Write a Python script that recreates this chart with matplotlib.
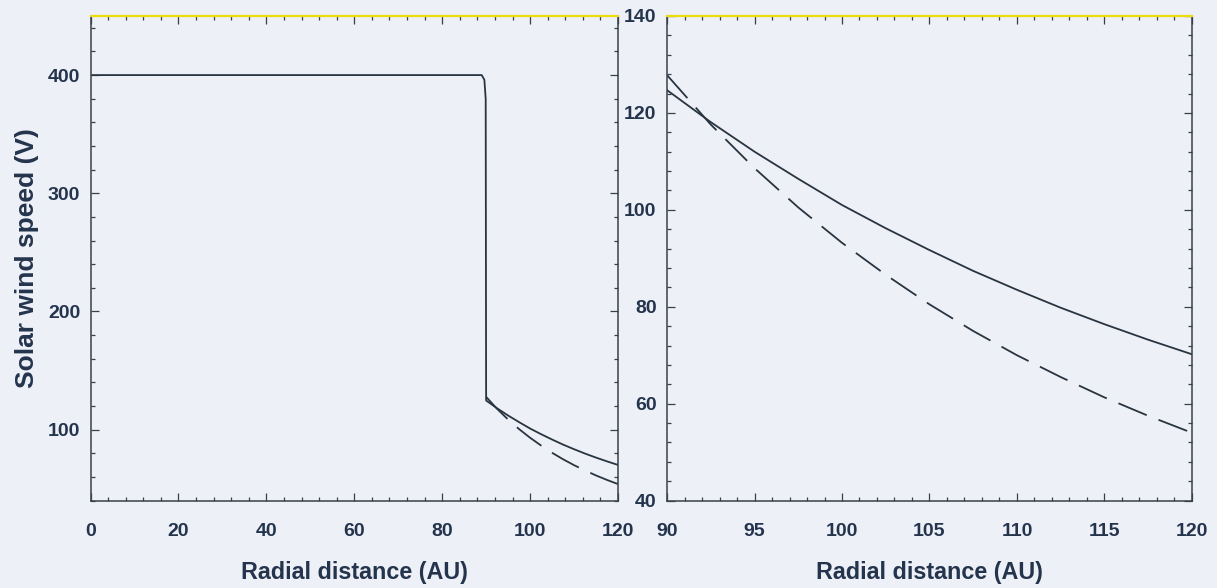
import matplotlib
matplotlib.use('Agg')
import matplotlib.pyplot as plt
from matplotlib.ticker import AutoMinorLocator

# Style
BG = '#eef0f8'
INK = '#24344c'
LINE = '#283440'
plt.rcParams.update({
    'font.family': ['Liberation Sans', 'DejaVu Sans'],
    'font.weight': 'bold',
    'axes.linewidth': 1.1,
})

# Data
# plateau upstream of the termination shock (left panel)
r_upstream = [0, 89.0, 89.6, 89.9]
v_upstream = [400, 400, 396, 380]

# heliosheath profiles, 90-120 AU
r_sheath = [90, 92.5, 95, 97.5, 100, 102.5, 105, 107.5, 110, 112.5, 115, 117.5, 120]
v_solid = [124.7, 118.1, 112.0, 106.4, 101.0, 96.2, 91.7, 87.4, 83.5, 79.8, 76.4, 73.2, 70.2]
v_dashed = [127.8, 117.6, 108.6, 100.5, 93.2, 86.6, 80.5, 75.0, 70.0, 65.5, 61.3, 57.5, 54.0]

left_xticks = [0, 20, 40, 60, 80, 100, 120]
left_yticks = [100, 200, 300, 400]
right_xticks = [90, 95, 100, 105, 110, 115, 120]
right_yticks = [40, 60, 80, 100, 120, 140]

DASH = (0, (17, 7))

fig = plt.figure(figsize=(12.17, 5.88), dpi=100, facecolor=BG)
ax1 = fig.add_axes([0.0744, 0.1486, 0.4334, 0.8242])
ax2 = fig.add_axes([0.5481, 0.1486, 0.4313, 0.8242])


def style_axes(ax):
    ax.set_facecolor(BG)
    for side in ['left', 'right', 'bottom']:
        ax.spines[side].set_color('#3a4048')
    ax.spines['top'].set_color('#ecdc10')
    ax.spines['top'].set_linewidth(1.6)
    ax.xaxis.set_minor_locator(AutoMinorLocator(5))
    ax.yaxis.set_minor_locator(AutoMinorLocator(5))
    ax.tick_params(which='both', direction='in', top=True, right=True,
                   color='#3a4048', width=0.9)
    ax.tick_params(which='major', length=5.5)
    ax.tick_params(which='minor', length=3)
    ax.tick_params(axis='x', pad=16, labelsize=14, labelcolor=INK)
    ax.tick_params(axis='y', pad=7.5, labelsize=14, labelcolor=INK)
    for lab in ax.get_xticklabels() + ax.get_yticklabels():
        lab.set_fontweight('bold')
    ax.set_xlabel('Radial distance (AU)', fontsize=16.8, fontweight='bold', color=INK,
                  labelpad=15.5)


# Left panel: full 0-120 AU profile
ax1.plot(r_upstream + r_sheath, v_upstream + v_solid, color=LINE, lw=1.3)
ax1.plot(r_sheath, v_dashed, color=LINE, lw=1.3, linestyle=DASH)
ax1.set_xlim(0, 120)
ax1.set_ylim(40, 450)
ax1.set_xticks(left_xticks)
ax1.set_yticks(left_yticks)
style_axes(ax1)
ax1.set_ylabel('Solar wind speed (V)', fontsize=19, fontweight='bold', color=INK, labelpad=6)

# Right panel: heliosheath zoom
ax2.plot(r_sheath, v_solid, color=LINE, lw=1.3)
ax2.plot(r_sheath, v_dashed, color=LINE, lw=1.3, linestyle=DASH)
ax2.set_xlim(90, 120)
ax2.set_ylim(40, 140)
ax2.set_xticks(right_xticks)
ax2.set_yticks(right_yticks)
style_axes(ax2)

fig.savefig('out.png', dpi=100, facecolor=BG)
